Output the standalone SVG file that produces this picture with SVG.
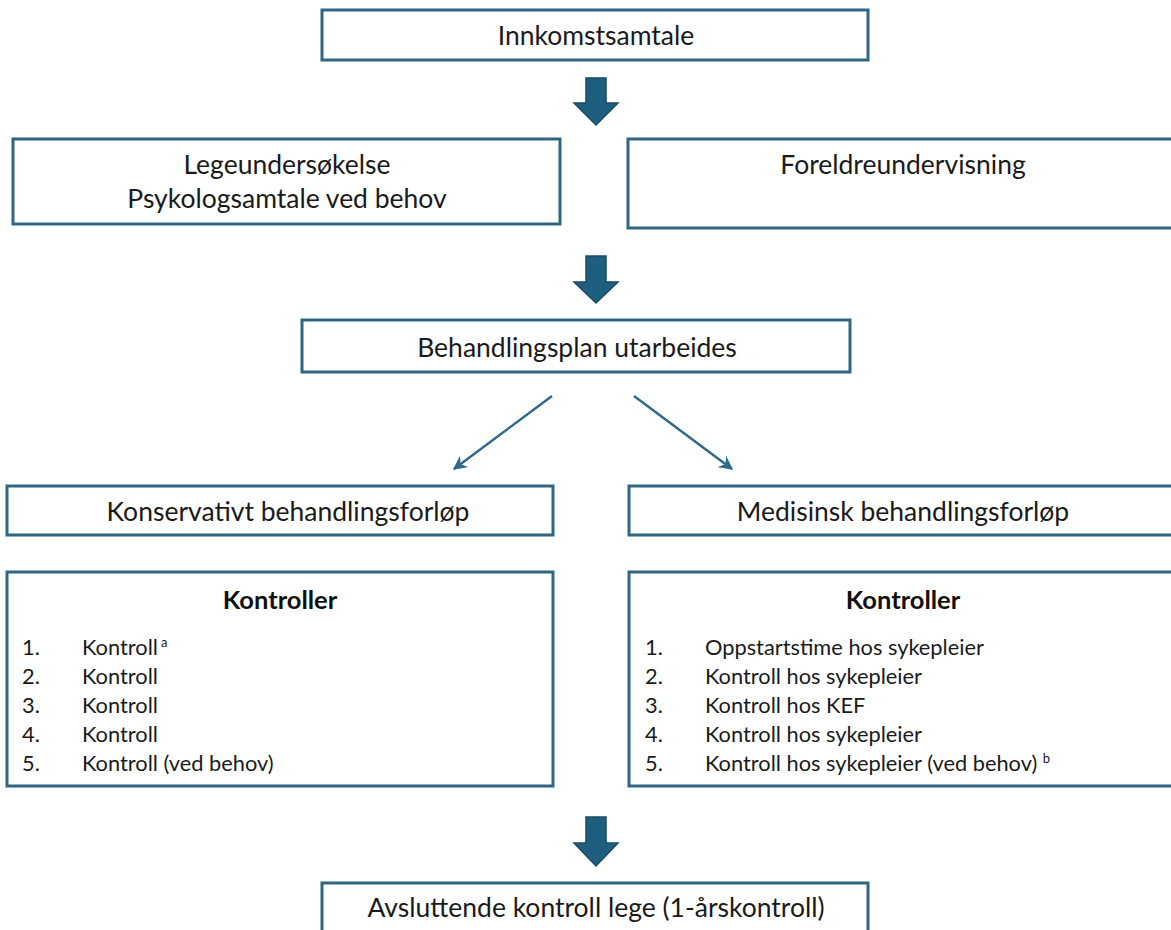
<svg xmlns="http://www.w3.org/2000/svg" width="1171" height="930" viewBox="0 0 1171 930">
<defs>
<style>
.box{fill:#fff;stroke:#2f6684;stroke-width:3}
.t{font-family:Lato,"Open Sans",sans-serif;font-size:26.5px;fill:#1a1a1a;text-anchor:middle}
.h{font-family:Lato,"Open Sans",sans-serif;font-size:25.5px;font-weight:bold;fill:#111;text-anchor:middle}
.li{font-family:Lato,"Open Sans",sans-serif;font-size:21.8px;fill:#1a1a1a}
.sup{font-size:13px}
.blk{fill:#1e5f80;stroke:#1a4a64;stroke-width:1.5;stroke-linejoin:miter}
.con{stroke:#2f6b88;stroke-width:2.5;fill:none}
</style>
<marker id="ah" viewBox="0 0 10 10" refX="9" refY="5" markerWidth="5.5" markerHeight="5.5" orient="auto" markerUnits="strokeWidth">
<path d="M0,0 L10,5 L0,10 L3,5 Z" fill="#2f6b88"/>
</marker>
</defs>
<rect width="1171" height="930" fill="#fff"/>
<g id="connectors">
<path class="blk" d="M586,78 H606 V103 H618 L596,125 L574,103 H586 Z"/>
<path class="blk" d="M586,256 H606 V282 H618 L596,303 L574,282 H586 Z"/>
<path class="blk" d="M586,817 H606 V843 H618 L596,866 L574,843 H586 Z"/>
<line class="con" x1="552" y1="396" x2="454" y2="469" marker-end="url(#ah)"/>
<line class="con" x1="634" y1="396" x2="732" y2="469" marker-end="url(#ah)"/>
</g>
<g id="n1"><rect class="box" x="322" y="10" width="546" height="50"/><text class="t" x="596" y="45">Innkomstsamtale</text></g>
<g id="n2"><rect class="box" x="13" y="139" width="547" height="85"/><text class="t" x="287" y="174">Legeundersøkelse</text><text class="t" x="287" y="208">Psykologsamtale ved behov</text></g>
<g id="n3"><rect class="box" x="628" y="139" width="552" height="89"/><text class="t" x="903" y="174">Foreldreundervisning</text></g>
<g id="n4"><rect class="box" x="302" y="320" width="548" height="52"/><text class="t" x="577" y="357">Behandlingsplan utarbeides</text></g>
<g id="n5"><rect class="box" x="7" y="486" width="546" height="49"/><text class="t" x="288" y="521">Konservativt behandlingsforløp</text></g>
<g id="n6"><rect class="box" x="629" y="486" width="552" height="49"/><text class="t" x="903" y="521">Medisinsk behandlingsforløp</text></g>
<g id="n7"><rect class="box" x="7" y="572" width="546" height="214"/>
<text class="h" x="280" y="609">Kontroller</text>
<text class="li" x="22" y="655">1.</text><text class="li" x="82" y="655">Kontroll<tspan class="sup" dx="3" dy="-8">a</tspan></text>
<text class="li" x="22" y="684">2.</text><text class="li" x="82" y="684">Kontroll</text>
<text class="li" x="22" y="713">3.</text><text class="li" x="82" y="713">Kontroll</text>
<text class="li" x="22" y="742">4.</text><text class="li" x="82" y="742">Kontroll</text>
<text class="li" x="22" y="771">5.</text><text class="li" x="82" y="771">Kontroll (ved behov)</text>
</g>
<g id="n8"><rect class="box" x="629" y="572" width="552" height="214"/>
<text class="h" x="903" y="609">Kontroller</text>
<text class="li" x="645" y="655">1.</text><text class="li" x="705" y="655">Oppstartstime hos sykepleier</text>
<text class="li" x="645" y="684">2.</text><text class="li" x="705" y="684">Kontroll hos sykepleier</text>
<text class="li" x="645" y="713">3.</text><text class="li" x="705" y="713">Kontroll hos KEF</text>
<text class="li" x="645" y="742">4.</text><text class="li" x="705" y="742">Kontroll hos sykepleier</text>
<text class="li" x="645" y="771">5.</text><text class="li" x="705" y="771">Kontroll hos sykepleier (ved behov) <tspan class="sup" dy="-8">b</tspan></text>
</g>
<g id="n9"><rect class="box" x="322" y="883" width="546" height="60"/><text class="t" x="596" y="917">Avsluttende kontroll lege (1-årskontroll)</text></g>
</svg>
